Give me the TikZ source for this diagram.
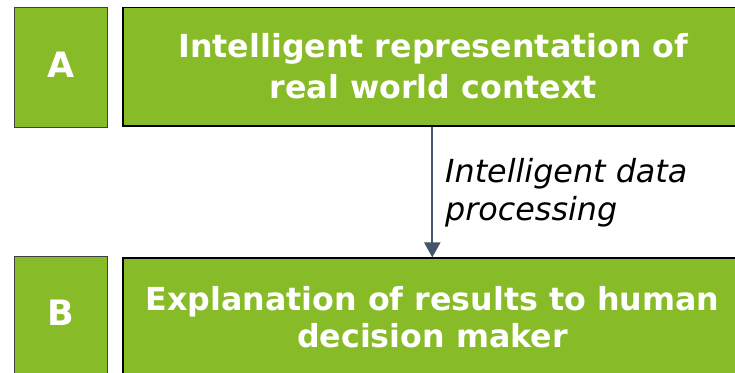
\documentclass[tikz,border=0pt]{standalone}
\usepackage{fontspec}
\setmainfont{DejaVu Sans}
\usetikzlibrary{arrows.meta}
\definecolor{boxgreen}{HTML}{87BB27}
\definecolor{flowslate}{HTML}{44546A}
\begin{document}
\begin{tikzpicture}[x=1pt,y=1pt,
  letterbox/.style={draw=black!75,line width=1pt,fill=boxgreen,minimum width=93pt,minimum height=120pt,inner sep=0pt},
  stagebox/.style={draw=black,line width=1.8pt,fill=boxgreen,minimum width=621pt,inner sep=0pt},
  lettertext/.style={text=white,font=\fontsize{35}{40}\selectfont\bfseries,inner sep=0pt,anchor=base},
  stagetext/.style={text=white,font=\fontsize{31.7}{#1}\selectfont\bfseries,align=center,inner sep=0pt,anchor=base},
  flow/.style={draw=flowslate,line width=2pt,-{Triangle[width=16pt,length=15pt]}},
  flowtext/.style={font=\fontsize{31.8}{37.5}\selectfont\itshape,align=left,inner sep=0pt,anchor=base west}]
\useasboundingbox (0,0) rectangle (735,-372);
\begin{scope}
\clip (0,0) rectangle (735,-372);
% upper stage
\node[letterbox] (boxA) at (60.8,-67) {};
\node[stagebox,minimum height=118.5pt] (stageA) at (433.4,-66.8) {};
% lower stage, running past the lower edge
\node[letterbox] (boxB) at (60.8,-316.7) {};
\node[stagebox,minimum height=120pt] (stageB) at (433.4,-318.3) {};
\end{scope}
\node[lettertext] (letterA) at (60.8,-77.3) {A};
\node[lettertext] (letterB) at (60.8,-325.7) {B};
% the base anchor of a two-line node sits on its last line
\node[stagetext=40.6] (textA) at (433.4,-98.3) {Intelligent representation of\\real world context};
\node[stagetext=37.3] (textB) at (432.5,-347.3) {Explanation of results to human\\decision maker};
% processing step between the stages
\draw[flow] (stageA.south -| 432.3,0) -- (stageB.north -| 432.3,0);
\node[flowtext] (flowlabel) at (445,-220.2) {Intelligent data\\processing};
\end{tikzpicture}
\end{document}
